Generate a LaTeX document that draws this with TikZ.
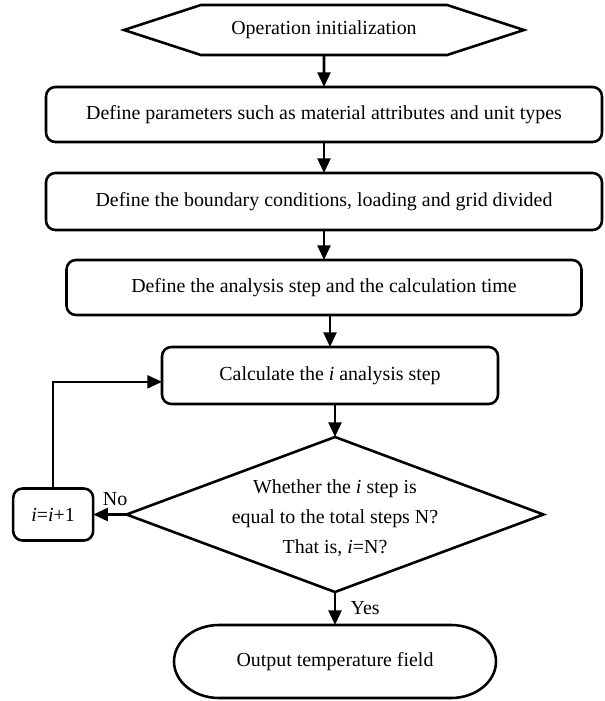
\documentclass[tikz,border=0pt]{standalone}
\usepackage{fontspec}
\setmainfont{Liberation Serif}
\usepackage{tikz}
\usetikzlibrary{shapes.geometric, shapes.symbols, arrows.meta, positioning, calc}

\begin{document}
\begin{tikzpicture}[
      every node/.style={font=\fontsize{17}{25.6}\selectfont},
      proc/.style={rectangle, rounded corners=8pt, draw, line width=2.2pt, inner sep=0pt, outer sep=0pt,
      minimum height=1.67cm, align=center},
      hexa/.style={signal, signal to=west and east, signal pointer angle=36, draw, line width=2.2pt,
      inner sep=0pt, outer sep=0pt, minimum width=12cm, minimum height=1.5cm},
      decide/.style={diamond, draw, line width=2.2pt, inner sep=0pt, outer sep=0pt, aspect=2.69,
      minimum width=12.51cm, minimum height=4.65cm},
      arrow/.style={-{Triangle[length=12.5pt, width=11pt]}, line width=2.2pt}
    ]
    \useasboundingbox (0,0) rectangle (18.15,-21.03);

    \node[hexa] (init) at (9.72,-0.9) {Operation initialization};
    \node[proc, minimum width=16.68cm, minimum height=1.65cm, below=0.96cm of init] (params)
      {Define parameters such as material attributes and unit types};
    \node[proc, minimum width=16.68cm, minimum height=1.71cm, below=0.93cm of params] (bound)
      {Define the boundary conditions, loading and grid divided};
    \node[proc, minimum width=15.45cm, minimum height=1.65cm, below=0.9cm of bound] (anstep)
      {Define the analysis step and the calculation time};
    \node[proc, minimum width=10.08cm, minimum height=1.71cm, below=0.96cm of anstep, xshift=0.18cm] (calc)
      {Calculate the \textit{i} analysis step};
    \node[decide, below=0.99cm of calc, xshift=0.15cm] (check) {};
    \node[align=center, yshift=-0.1cm] (checktext) at (check)
      {Whether the \textit{i} step is\\equal to the total steps N?\\That is, \textit{i}=N?};
    \node[proc, minimum width=2.4cm, minimum height=1.56cm, left=1.0cm of check] (incr)
      {\textit{i}=\textit{i}+1};
    \node[rectangle, outer sep=0pt, minimum width=9.66cm, minimum height=2.19cm, below=0.99cm of check] (output)
      {Output temperature field};
    \draw[line width=2.2pt] ([xshift=1.35cm]output.north west) -- ([xshift=-1.35cm]output.north east)
      arc[start angle=90, end angle=-90, x radius=1.35cm, y radius=1.095cm]
      -- ([xshift=1.35cm]output.south west)
      arc[start angle=270, end angle=90, x radius=1.35cm, y radius=1.095cm] -- cycle;

    \draw[arrow] (init) -- (params);
    \draw[arrow] (params) -- (bound);
    \draw[arrow] (bound) -- (anstep);
    \draw[arrow] (anstep.south -| calc) -- (calc.north);
    \draw[arrow] (calc.south -| check) -- (check.north);
    \draw[arrow] (check.south) -- node[right=9pt] {Yes} (output.north);
    \draw[arrow] (check.west) -- node[above=3.5pt, pos=0.34] {No} (incr.east);
    \draw[arrow] (incr.north) |- ([yshift=-0.19cm]calc.west);
  \end{tikzpicture}
\end{document}
